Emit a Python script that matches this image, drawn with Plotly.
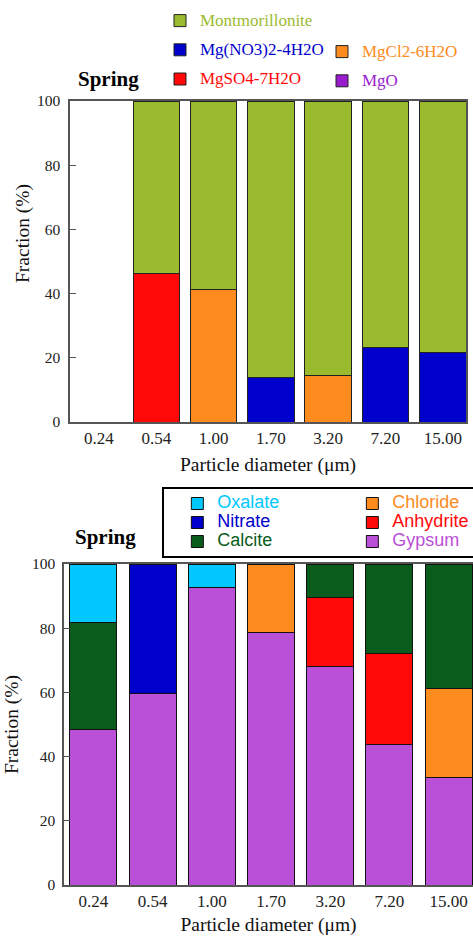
import plotly.graph_objects as go

# ---------------- data ----------------
diameters = ["0.24", "0.54", "1.00", "1.70", "3.20", "7.20", "15.00"]

# top panel (Mg salts)
montmorillonite = [0, 53.6, 58.8, 86.1, 85.4, 76.9, 78.2]
mg_no3 = [0, 0, 0, 13.9, 0, 23.1, 21.8]
mgcl2 = [0, 0, 41.2, 0, 14.6, 0, 0]
mgso4 = [0, 46.4, 0, 0, 0, 0, 0]
mgo = [0, 0, 0, 0, 0, 0, 0]

# bottom panel (Ca salts)
gypsum = [48.3, 59.7, 92.7, 78.6, 68.0, 43.8, 33.4]
anhydrite = [0, 0, 0, 0, 21.6, 28.4, 0]
chloride = [0, 0, 0, 21.4, 0, 0, 27.9]
calcite = [33.4, 0, 0, 0, 10.4, 27.8, 38.7]
nitrate = [0, 40.3, 0, 0, 0, 0, 0]
oxalate = [18.3, 0, 7.3, 0, 0, 0, 0]

W, H = 473, 936
SERIF = "Liberation Serif"
SANS = "Liberation Sans"


def px_x(p):
    return p / W


def px_y(p):
    return 1 - p / H


def lname(text, color, size):
    return f'<span style="color:{color};font-size:{size}px">{text}</span>'


fig = go.Figure()

# ----- top panel traces (stack order bottom -> top) -----
top_series = [
    ("MgSO4-7H2O", mgso4, "#ff0808", "legend", 3),
    ("MgCl2-6H2O", mgcl2, "#fd8b1d", "legend2", 1),
    ("Mg(NO3)2-4H2O", mg_no3, "#0000cc", "legend", 2),
    ("MgO", mgo, "#9a1ccf", "legend2", 2),
    ("Montmorillonite", montmorillonite, "#9bbb2f", "legend", 1),
]
for name, vals, col, leg, rank in top_series:
    fig.add_trace(go.Bar(
        x=diameters, y=vals, name=lname(name, col, 17),
        marker=dict(color=col, line=dict(color="#222222", width=1)),
        width=0.81, xaxis="x", yaxis="y",
        legend=leg, legendrank=rank, legendgroup=name,
    ))

# ----- bottom panel traces -----
bot_series = [
    ("Gypsum", gypsum, "#bb50d8", 6),
    ("Chloride", chloride, "#fd8b1d", 2),
    ("Anhydrite", anhydrite, "#ff0808", 4),
    ("Calcite", calcite, "#0a5c1c", 5),
    ("Nitrate", nitrate, "#0000cc", 3),
    ("Oxalate", oxalate, "#00c8ff", 1),
]
for name, vals, col, rank in bot_series:
    fig.add_trace(go.Bar(
        x=diameters, y=vals, name=lname(name, col, 18),
        marker=dict(color=col, line=dict(color="#111111", width=1)),
        width=0.794, xaxis="x2", yaxis="y2",
        legend="legend3", legendrank=rank,
    ))

axis_line = "#555555"
tickfont_x = dict(family=SERIF, size=17, color="#222")
tickfont_y = dict(family=SERIF, size=15.5, color="#222")
title_font = dict(family=SERIF, size=19.5, color="#111")

fig.update_layout(
    width=W, height=H,
    margin=dict(l=0, r=0, t=0, b=0, autoexpand=False),
    paper_bgcolor="white", plot_bgcolor="white",
    barmode="stack",
    xaxis=dict(
        domain=[px_x(70), px_x(466)], anchor="y", type="category",
        range=[-0.505, 6.405], showline=True, linecolor=axis_line, linewidth=1.5,
        mirror=True, ticks="", showgrid=False, tickfont=tickfont_x,
        title=dict(text="Particle diameter (μm)", font=title_font, standoff=10),
    ),
    yaxis=dict(
        domain=[px_y(422), px_y(101)], anchor="x", range=[0, 100],
        tickvals=[0, 20, 40, 60, 80, 100], showline=True, linecolor=axis_line,
        linewidth=1.5, mirror=True, ticks="inside", ticklen=6, tickcolor=axis_line,
        showgrid=False, zeroline=False, tickfont=tickfont_y, ticklabelstandoff=5,
    ),
    yaxis3=dict(
        overlaying="y", anchor="x", side="right", range=[0, 100],
        tickvals=[0, 20, 40, 60, 80], ticks="outside", ticklen=7,
        tickcolor=axis_line, showticklabels=False, showline=False,
        showgrid=False, zeroline=False,
    ),
    xaxis2=dict(
        domain=[px_x(64), 1], anchor="y2", type="category",
        range=[-0.498, 6.411], showline=True, linecolor=axis_line, linewidth=1.5,
        mirror=True, ticks="", showgrid=False, tickfont=tickfont_x,
        title=dict(text="Particle diameter (μm)", font=title_font, standoff=10),
    ),
    yaxis2=dict(
        domain=[px_y(885), px_y(564)], anchor="x2", range=[0, 100],
        tickvals=[0, 20, 40, 60, 80, 100], showline=True, linecolor=axis_line,
        linewidth=1.5, ticks="inside", ticklen=6, tickcolor=axis_line,
        showgrid=False, zeroline=False, tickfont=tickfont_y, ticklabelstandoff=4,
        title=dict(text="Fraction (%)", font=title_font, standoff=8),
    ),
    legend=dict(
        x=px_x(160), y=px_y(5), xanchor="left", yanchor="top",
        orientation="v", traceorder="grouped", tracegroupgap=8,
        font=dict(family=SERIF, size=14), bgcolor="rgba(0,0,0,0)",
        borderwidth=0,
    ),
    legend2=dict(
        x=px_x(322), y=px_y(36), xanchor="left", yanchor="top",
        orientation="v", traceorder="grouped", tracegroupgap=8,
        font=dict(family=SERIF, size=14), bgcolor="rgba(0,0,0,0)",
        borderwidth=0,
    ),
    legend3=dict(
        x=px_x(162), y=px_y(487), xanchor="left", yanchor="top",
        orientation="h", traceorder="normal", entrywidth=130,
        title=dict(text="&nbsp;", side="left",
                   font=dict(family=SANS, size=12)),
        font=dict(family=SANS, size=12), bgcolor="white",
        bordercolor="black", borderwidth=2,
    ),
    annotations=[
        dict(text="<b>Spring</b>", x=px_x(76), y=px_y(79), xref="paper",
             yref="paper", xanchor="left", yanchor="middle", showarrow=False,
             font=dict(family=SERIF, size=21, color="black")),
        dict(text="<b>Spring</b>", x=px_x(73), y=px_y(537), xref="paper",
             yref="paper", xanchor="left", yanchor="middle", showarrow=False,
             font=dict(family=SERIF, size=21, color="black")),
        dict(text="Fraction (%)", x=px_x(23), y=px_y(234), xref="paper",
             yref="paper", xanchor="center", yanchor="middle", showarrow=False,
             textangle=-90, font=title_font),
    ],
)

fig.write_html(
    "out.html",
    config={"displayModeBar": False},
    post_script="document.body.style.margin='0';document.body.style.overflow='hidden';",
)
